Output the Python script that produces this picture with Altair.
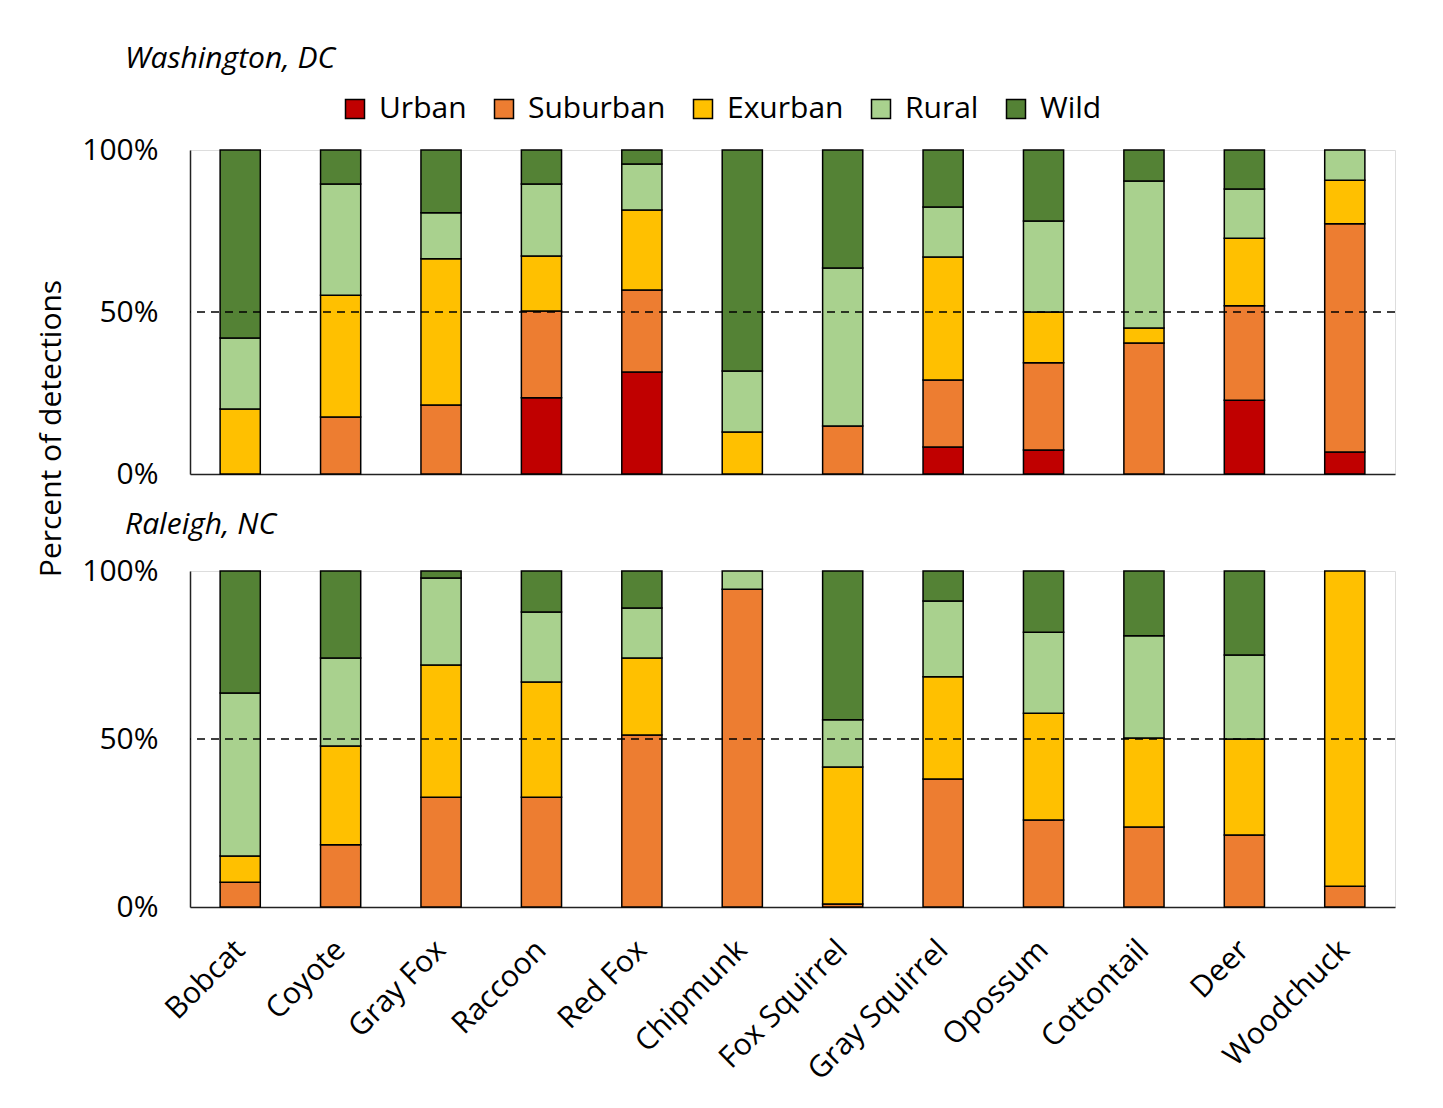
import altair as alt
import pandas as pd

species = ["Bobcat", "Coyote", "Gray Fox", "Raccoon", "Red Fox", "Chipmunk",
           "Fox Squirrel", "Gray Squirrel", "Opossum", "Cottontail", "Deer", "Woodchuck"]
categories = ["Urban", "Suburban", "Exurban", "Rural", "Wild"]
colors = ["#C00000", "#ED7D31", "#FFC000", "#A9D18E", "#548235"]

dc_urban = [0, 0, 0, 23.5, 31.5, 0, 0, 8.3, 7.4, 0, 22.8, 6.8]
dc_suburban = [0, 17.6, 21.3, 26.8, 25.3, 0, 14.8, 20.7, 26.9, 40.4, 29.1, 70.4]
dc_exurban = [20.1, 37.6, 45.1, 17.0, 24.7, 13.0, 0, 38.0, 15.7, 4.7, 20.9, 13.5]
dc_rural = [21.9, 34.3, 14.2, 22.2, 14.2, 18.8, 48.8, 15.4, 28.1, 45.3, 15.2, 9.3]
dc_wild = [58.0, 10.5, 19.4, 10.5, 4.3, 68.2, 36.4, 17.6, 21.9, 9.6, 12.0, 0]

nc_urban = [0, 0, 0, 0, 0, 0, 0, 0, 0, 0, 0, 0]
nc_suburban = [7.4, 18.5, 32.7, 32.7, 51.2, 94.6, 0.9, 38.1, 25.9, 23.8, 21.4, 6.2]
nc_exurban = [7.8, 29.4, 39.3, 34.3, 22.9, 0, 40.8, 30.4, 31.8, 26.5, 28.6, 93.8]
nc_rural = [48.5, 26.2, 25.9, 20.8, 14.9, 5.4, 14.0, 22.6, 24.1, 30.4, 25.0, 0]
nc_wild = [36.3, 25.9, 2.1, 12.2, 11.0, 0, 44.3, 8.9, 18.2, 19.3, 25.0, 0]

y_ticks = [0, 50, 100]
FONT = "Open Sans"
FS = 30


def long_df(series_list):
    rows = []
    for ci, (cat, vals) in enumerate(zip(categories, series_list)):
        for s, v in zip(species, vals):
            if v > 0:
                rows.append({"species": s, "cat": cat, "idx": ci, "value": v})
    return pd.DataFrame(rows)


dc = long_df([dc_urban, dc_suburban, dc_exurban, dc_rural, dc_wild])
nc = long_df([nc_urban, nc_suburban, nc_exurban, nc_rural, nc_wild])

xscale = alt.Scale(domain=species, paddingInner=0.6, paddingOuter=0.3)
yscale = alt.Scale(domain=[0, 100], nice=False)
cscale = alt.Scale(domain=categories, range=colors)

W = 1205


def panel(df, title, height, show_x, show_legend, y_title, title_offset):
    xaxis = alt.Axis(
        title=None, labels=show_x, ticks=False, domain=True, domainColor="#222222",
        domainWidth=1.5, labelAngle=-45, labelAlign="right", labelBaseline="middle",
        labelFontSize=FS, labelFont=FONT, labelColor="black", labelPadding=38,
        labelLimit=400,
    )
    yaxis_kwargs = dict(
        values=y_ticks, labelExpr="datum.value + '%'", ticks=False, grid=False,
        domainColor="#222222", domainWidth=1.5, labelFontSize=FS, labelFont=FONT,
        labelColor="black", labelPadding=32,
    )
    if y_title:
        yaxis = alt.Axis(title="Percent of detections", titleFontSize=FS, titleFont=FONT,
                         titleFontWeight="normal", titleColor="black", titleX=-124,
                         titleY=278, titleAngle=-90, **yaxis_kwargs)
    else:
        yaxis = alt.Axis(title=None, **yaxis_kwargs)

    if show_legend:
        legend = alt.Legend(
            title=None, orient="none", direction="horizontal", legendX=150, legendY=-56,
            symbolType="square", symbolSize=361, symbolStrokeColor="black",
            symbolStrokeWidth=1.5, labelFontSize=FS, labelFont=FONT, labelColor="black",
            columnPadding=22, labelOffset=9,
        )
    else:
        legend = None

    bars = alt.Chart(df).mark_bar(stroke="black", strokeWidth=1.5).encode(
        x=alt.X("species:N", scale=xscale, sort=species, axis=xaxis),
        y=alt.Y("value:Q", stack="zero", scale=yscale, axis=yaxis),
        color=alt.Color("cat:N", scale=cscale, sort=categories, legend=legend),
        order=alt.Order("idx:Q", sort="ascending"),
    )
    rule = alt.Chart(pd.DataFrame({"y": [50]})).mark_rule(
        color="black", strokeDash=[8, 6], strokeWidth=1.5
    ).encode(y=alt.Y("y:Q", scale=yscale))

    return alt.layer(bars, rule).properties(
        width=W, height=height,
        title=alt.TitleParams(title, fontSize=FS, font=FONT, fontStyle="italic",
                              fontWeight="normal", anchor="start", frame="group",
                              dx=-65, offset=title_offset, color="black"),
    )


top = panel(dc, "Washington, DC", 324, False, True, True, 20)
bottom = panel(nc, "Raleigh, NC", 336, True, False, False, 16)

chart = alt.vconcat(top, bottom, spacing=97, bounds="flush").resolve_legend(
    color="independent"
).properties(
    padding={"top": 35, "left": 27, "right": 10, "bottom": 5}
).configure_view(stroke=None).configure(background="white")

chart.save("out.html", embed_options={"renderer": "svg", "actions": False})
